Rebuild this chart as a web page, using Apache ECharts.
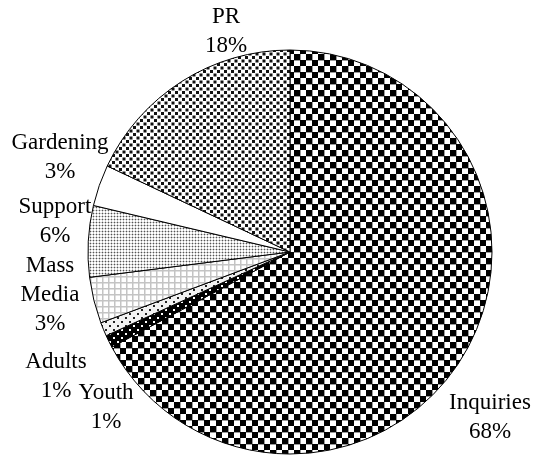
<!DOCTYPE html>
<html>
<head>
<meta charset="utf-8">
<script src="https://cdn.jsdelivr.net/npm/echarts@6/dist/echarts.min.js"></script>
<style>
  html, body { margin: 0; padding: 0; background: #fff; }
  #chart { width: 537px; height: 456px; }
</style>
</head>
<body>
<div id="chart"></div>
<script>
(function () {

  var categories = ['Inquiries', 'Youth', 'Adults', 'Mass Media', 'Support', 'Gardening', 'PR'];
  var values = [67.2, 1.0, 1.1, 3.7, 5.7, 3.3, 18.0];
  var percentLabels = ['68%', '1%', '1%', '3%', '6%', '3%', '18%'];

  // label centres (Excel "best fit" placement)
  var labelPos = [[490, 417], [106, 407], [56, 376], [50, 295], [55, 221], [60, 157], [226, 31]];

  ///////////////////////////////////////////////////////////////////
  // pattern fills
  ///////////////////////////////////////////////////////////////////
  function tile(w, h, draw) {
    var c = document.createElement('canvas');
    c.width = w;
    c.height = h;
    draw(c.getContext('2d'));
    return { image: c, repeat: 'repeat' };
  }

  var patterns = [
    // Inquiries: large checker board
    tile(12, 12, function (g) {
      g.fillStyle = '#fff'; g.fillRect(0, 0, 12, 12);
      g.fillStyle = '#000';
      g.fillRect(0, 0, 6, 6); g.fillRect(6, 6, 6, 6);
      g.fillStyle = '#999';
      g.fillRect(6, 0, 6, 1); g.fillRect(0, 6, 1, 6);
    }),
    // Youth: black with white dots
    tile(8, 8, function (g) {
      g.fillStyle = '#000'; g.fillRect(0, 0, 8, 8);
      g.fillStyle = '#fff';
      g.fillRect(1, 1, 2, 2); g.fillRect(5, 5, 2, 2);
    }),
    // Adults: light with sparse dots
    tile(8, 8, function (g) {
      g.fillStyle = '#f2f2f2'; g.fillRect(0, 0, 8, 8);
      g.fillStyle = '#222';
      g.fillRect(1, 1, 2, 2); g.fillRect(5, 5, 2, 2);
    }),
    // Mass Media: light grey grid
    tile(6, 6, function (g) {
      g.fillStyle = '#fff'; g.fillRect(0, 0, 6, 6);
      g.fillStyle = '#c4c4c4';
      g.fillRect(0, 0, 6, 1.5); g.fillRect(0, 0, 1.5, 6);
    }),
    // Support: fine dotted grid
    tile(3, 3, function (g) {
      g.fillStyle = '#fff'; g.fillRect(0, 0, 3, 3);
      g.fillStyle = '#ccc';
      g.fillRect(0, 0, 3, 1); g.fillRect(0, 0, 1, 3);
      g.fillStyle = '#555';
      g.fillRect(0, 0, 1, 1);
    }),
    // Gardening: plain white
    '#ffffff',
    // PR: dotted diamond
    tile(7, 7, function (g) {
      g.fillStyle = '#fff'; g.fillRect(0, 0, 7, 7);
      g.fillStyle = '#111';
      g.fillRect(0, 0, 3, 3); g.fillRect(3.5, 3.5, 3, 3);
    })
  ];

  var pieData = categories.map(function (name, i) {
    return {
      name: name,
      value: values[i],
      itemStyle: { color: patterns[i] }
    };
  });

  var myChart = echarts.init(document.getElementById('chart'), null, { renderer: 'canvas' });
  var option = {
    animation: false,
    backgroundColor: '#fff',
    series: [{
      type: 'pie',
      center: [290, 252],
      radius: 202,
      startAngle: 90,
      clockwise: true,
      avoidLabelOverlap: false,
      emphasis: { disabled: true },
      data: pieData,
      itemStyle: {
        borderColor: '#000',
        borderWidth: 1
      },
      label: {
        show: true,
        position: 'outside',
        color: '#000',
        fontFamily: 'Liberation Serif',
        fontSize: 23,
        lineHeight: 29,
        align: 'center',
        formatter: function (p) {
          return p.name.replace(' ', '\n') + '\n' + percentLabels[p.dataIndex];
        }
      },
      labelLine: { show: false },
      labelLayout: function (params) {
        var pos = labelPos[params.dataIndex];
        return {
          x: pos[0],
          y: pos[1],
          align: 'center',
          verticalAlign: 'middle'
        };
      }
    }]
  };

  myChart.setOption(option);
}());
</script>
</body>
</html>
